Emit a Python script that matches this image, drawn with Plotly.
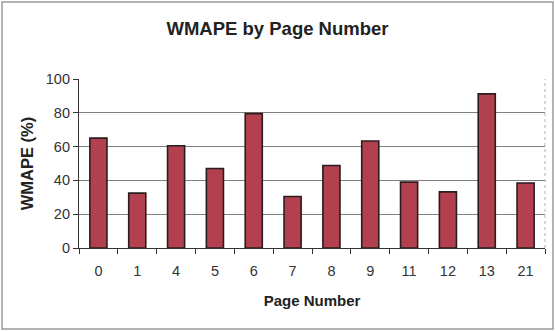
import plotly.graph_objects as go

# WMAPE per page number
pages = ["0", "1", "4", "5", "6", "7", "8", "9", "11", "12", "13", "21"]
wmape = [65, 32.5, 60.5, 47, 79.5, 30.5, 48.8, 63.3, 39, 33.2, 91.2, 38.5]

bar_fill = "#b3404f"
bar_edge = "#2b1c1e"
font_family = "Liberation Sans, Arial, sans-serif"

fig = go.Figure(
    go.Bar(
        x=pages,
        y=wmape,
        marker=dict(color=bar_fill, line=dict(color=bar_edge, width=1.6)),
    )
)

fig.update_layout(
    width=555,
    height=331,
    margin=dict(l=79, r=10, t=79, b=83),
    paper_bgcolor="white",
    plot_bgcolor="white",
    bargap=0.56,
    showlegend=False,
    font=dict(family=font_family, color="#333333"),
    title=dict(
        text="<b>WMAPE by Page Number</b>",
        x=0.5,
        xref="container",
        xanchor="center",
        y=1 - 29 / 331,
        yref="container",
        yanchor="middle",
        font=dict(size=18.5, color="#222222"),
    ),
    shapes=[
        # chart frame
        dict(type="rect", xref="paper", yref="paper",
             x0=-77 / 466, x1=1 + 8 / 466, y0=-81 / 169, y1=1 + 77 / 169,
             line=dict(color="#9a9a9a", width=1.5), fillcolor="rgba(0,0,0,0)",
             layer="below"),
        # right edge of plot area
        dict(type="line", xref="paper", yref="paper", x0=1, x1=1, y0=0, y1=1,
             line=dict(color="#b0b0b0", width=1, dash="dot")),
    ],
)

fig.update_xaxes(
    type="category",
    showgrid=False,
    showline=True,
    linecolor="#333333",
    linewidth=1.2,
    ticks="outside",
    tickson="boundaries",
    ticklen=5,
    tickcolor="#333333",
    ticklabelstandoff=9,
    tickfont=dict(size=14.5, color="#333333"),
    title=dict(text="<b>Page Number</b>", font=dict(size=15, color="#222222"), standoff=17),
)

fig.update_yaxes(
    range=[0, 100],
    tickvals=[0, 20, 40, 60, 80, 100],
    showgrid=True,
    gridcolor="#808080",
    gridwidth=1,
    showline=True,
    linecolor="#333333",
    linewidth=1.2,
    ticks="outside",
    ticklen=5,
    tickcolor="#333333",
    tickfont=dict(size=14.5, color="#333333"),
    zeroline=False,
    title=dict(text="<b>WMAPE (%)</b>", font=dict(size=16.5, color="#222222"), standoff=8),
)

fig.write_html("out.html")
